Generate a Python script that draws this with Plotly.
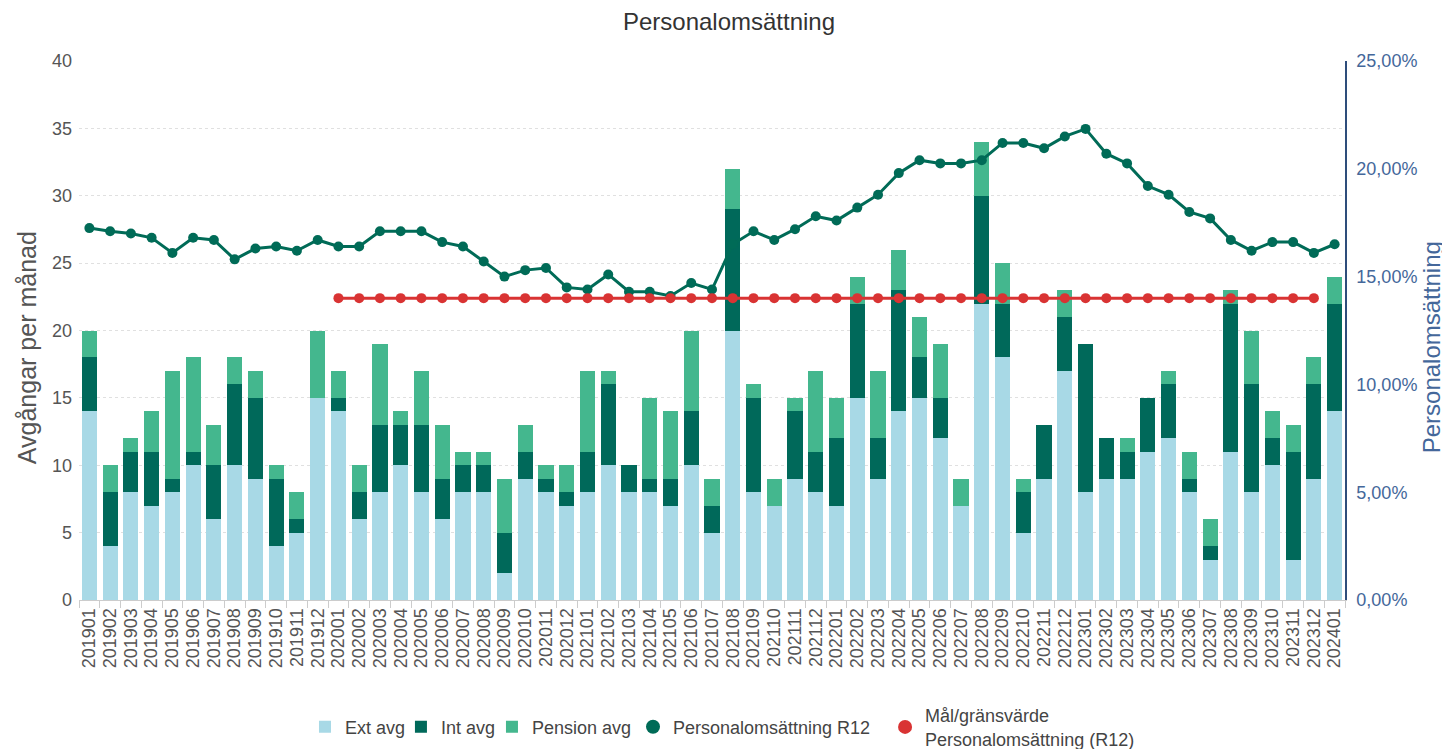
import plotly.graph_objects as go

months = ["201901","201902","201903","201904","201905","201906","201907","201908","201909","201910","201911","201912",
          "202001","202002","202003","202004","202005","202006","202007","202008","202009","202010","202011","202012",
          "202101","202102","202103","202104","202105","202106","202107","202108","202109","202110","202111","202112",
          "202201","202202","202203","202204","202205","202206","202207","202208","202209","202210","202211","202212",
          "202301","202302","202303","202304","202305","202306","202307","202308","202309","202310","202311","202312",
          "202401"]

ext_avg = [14,4,8,7,8,10,6,10,9,4,5,15,
           14,6,8,10,8,6,8,8,2,9,8,7,
           8,10,8,8,7,10,5,20,8,7,9,8,
           7,15,9,14,15,12,7,22,18,5,9,17,
           8,9,9,11,12,8,3,11,8,10,3,9,
           14]
int_avg = [4,4,3,4,1,1,4,6,6,5,1,0,
           1,2,5,3,5,3,2,2,3,2,1,1,
           3,6,2,1,2,4,2,9,7,0,5,3,
           5,7,3,9,3,3,0,8,4,3,4,4,
           11,3,2,4,4,1,1,11,8,2,8,7,
           8]
pension_avg = [2,2,1,3,8,7,3,2,2,1,2,5,
               2,2,6,1,4,4,1,1,4,2,1,2,
               6,1,0,6,5,6,2,3,1,2,1,6,
               3,2,5,3,3,4,2,4,3,1,0,2,
               0,0,1,0,1,2,2,1,4,2,2,2,
               2]
r12 = [17.25,17.1,17.0,16.8,16.1,16.8,16.7,15.8,16.3,16.4,16.2,16.7,
       16.4,16.4,17.1,17.1,17.1,16.6,16.4,15.7,15.0,15.3,15.4,14.5,
       14.4,15.1,14.3,14.3,14.1,14.7,14.4,16.5,17.1,16.7,17.2,17.8,
       17.6,18.2,18.8,19.8,20.4,20.25,20.25,20.4,21.2,21.2,20.95,21.5,
       21.85,20.7,20.25,19.2,18.8,18.0,17.7,16.7,16.2,16.6,16.6,16.1,
       16.5]
target_months = months[12:60]
target = [14.0] * len(target_months)

C_EXT = "#A8D9E6"
C_INT = "#00695A"
C_PEN = "#44B78E"
C_LINE = "#006B57"
C_RED = "#D93333"
C_BLUE = "#44679A"
FONT = "Liberation Sans, Arial, sans-serif"
NAME_R12 = "Personalomsättning R12"
NAME_TGT = "Mål/gränsvärde<br>Personalomsättning (R12)"

fig = go.Figure()
fig.add_trace(go.Bar(x=months, y=ext_avg, name="Ext avg", marker=dict(color=C_EXT, line=dict(width=0)),
                     legend="legend"))
fig.add_trace(go.Bar(x=months, y=int_avg, name="Int avg", marker=dict(color=C_INT, line=dict(width=0)),
                     legend="legend2"))
fig.add_trace(go.Bar(x=months, y=pension_avg, name="Pension avg", marker=dict(color=C_PEN, line=dict(width=0)),
                     legend="legend3"))
fig.add_trace(go.Scatter(x=months, y=[v / 100 for v in r12], name=NAME_R12, yaxis="y2",
                         mode="lines+markers", line=dict(color=C_LINE, width=3),
                         marker=dict(color=C_LINE, size=10), showlegend=False))
fig.add_trace(go.Scatter(x=target_months, y=[v / 100 for v in target], name=NAME_TGT,
                         yaxis="y2", mode="lines+markers", line=dict(color=C_RED, width=3),
                         marker=dict(color=C_RED, size=10), showlegend=False))
# legend-only entries (marker symbol only, as in the reference legend)
fig.add_trace(go.Scatter(x=[None], y=[None], name=NAME_R12, mode="markers", yaxis="y2",
                         marker=dict(color=C_LINE, size=14), legend="legend4"))
fig.add_trace(go.Scatter(x=[None], y=[None], name=NAME_TGT, mode="markers", yaxis="y2",
                         marker=dict(color=C_RED, size=14), legend="legend5"))

LEG_Y = -0.2356
def leg(xpos):
    return dict(orientation="h", x=xpos, xanchor="left", y=LEG_Y, yanchor="middle",
                bgcolor="rgba(0,0,0,0)", font=dict(size=18, color="#444"))

fig.update_layout(
    width=1442, height=741,
    barmode="stack", bargap=0.27,
    separators=", ",
    paper_bgcolor="white", plot_bgcolor="white",
    font=dict(family=FONT, color="#444", size=18),
    margin=dict(l=71, r=105, t=53, b=149, autoexpand=False),
    title=dict(text="Personalomsättning", x=0.5, xanchor="center", y=0.981, yanchor="middle",
               font=dict(size=24, color="#333")),
    xaxis=dict(type="category", range=[-0.5, 60.5], tickmode="linear", dtick=1, tick0=0,
               tickangle=-90, tickfont=dict(size=18, color="#555"),
               showline=True, linecolor="#ccc", linewidth=1,
               ticks="outside", tickson="boundaries", ticklen=7, tickcolor="#ccc",
               showgrid=False, automargin=False),
    yaxis=dict(range=[0, 40], dtick=5, tickfont=dict(size=18, color="#555"),
               showgrid=True, gridcolor="#e0e0e0", griddash="dot", gridwidth=1,
               zeroline=False, showline=False, automargin=False, ticklabelstandoff=6),
    yaxis2=dict(range=[0, 0.25], dtick=0.05, tickformat=".2%", overlaying="y", side="right",
                tickfont=dict(size=18, color=C_BLUE),
                showgrid=False, zeroline=False, showline=True, linecolor="#2E4D7B", linewidth=1.5,
                automargin=False, ticklabelstandoff=6),
    legend=leg(0.1785),
    legend2=leg(0.2543),
    legend3=leg(0.3262),
    legend4=leg(0.4376),
    legend5=leg(0.6367),
    annotations=[
        dict(text="Avgångar per månad", xref="paper", yref="paper", x=-0.0411, y=0.469,
             xanchor="center", yanchor="middle", textangle=-90, showarrow=False,
             font=dict(size=25, color="#555")),
        dict(text="Personalomsättning", xref="paper", yref="paper", x=1.0680, y=0.469,
             xanchor="center", yanchor="middle", textangle=-90, showarrow=False,
             font=dict(size=24, color=C_BLUE)),
    ],
)

fig.write_html("out.html")
